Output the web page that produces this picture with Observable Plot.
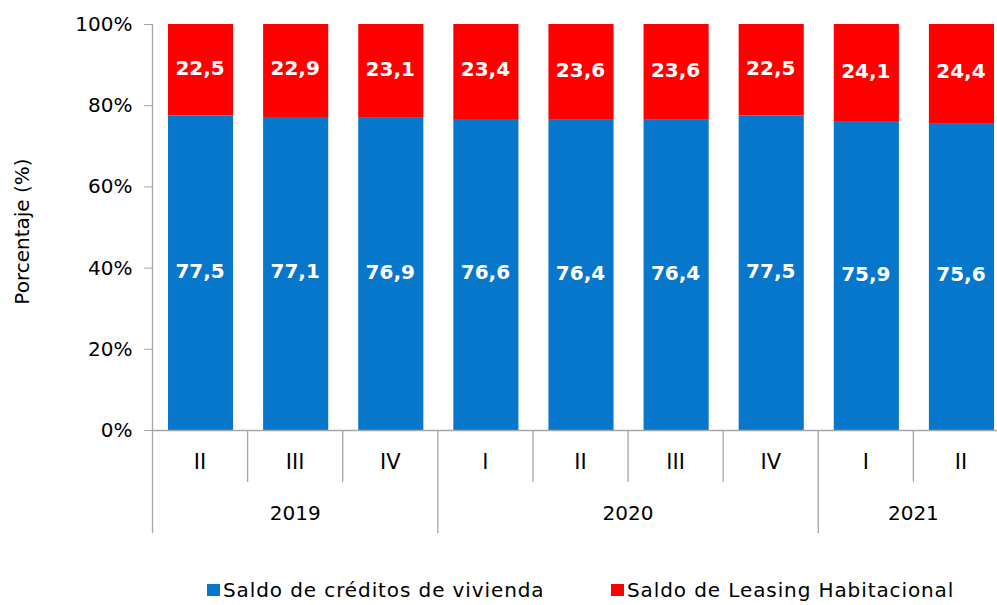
<!DOCTYPE html>
<html>
<head>
<meta charset="utf-8">
<script src="https://cdn.jsdelivr.net/npm/d3@7"></script>
<script src="https://cdn.jsdelivr.net/npm/@observablehq/plot@0.6"></script>
<style>
  html, body { margin: 0; padding: 0; background: #fff; }
  #wrap { position: relative; width: 997px; height: 605px; overflow: hidden; font-family: "DejaVu Sans", sans-serif; }
  #chart { position: absolute; left: 0; top: 0; width: 1010px; }
  #chart svg { max-width: none !important; }
  .leg { position: absolute; top: 578px; display: flex; align-items: center; font-size: 20px; letter-spacing: 0.9px; color: #000; white-space: nowrap; }
  .sw { width: 13px; height: 12px; margin-right: 3px; }
</style>
</head>
<body>
<div id="wrap">
  <div id="chart"></div>
  <div id="legend"></div>
</div>
<script>
// ---- data ----
const quarters = ["II", "III", "IV", "I", "II", "III", "IV", "I", "II"];
const years = ["2019", "2019", "2019", "2020", "2020", "2020", "2020", "2021", "2021"];
const creditos = [77.5, 77.1, 76.9, 76.6, 76.4, 76.4, 77.5, 75.9, 75.6];
const leasing = [22.5, 22.9, 23.1, 23.4, 23.6, 23.6, 22.5, 24.1, 24.4];
const seriesNames = ["Saldo de créditos de vivienda", "Saldo de Leasing Habitacional"];
const seriesColors = ["#0777CC", "#FF0000"];
const yTicks = [0, 20, 40, 60, 80, 100];

// ---- derived tables ----
const rows = [];
quarters.forEach((q, i) => {
  rows.push({i, serie: seriesNames[0], value: creditos[i]});
  rows.push({i, serie: seriesNames[1], value: leasing[i]});
});
const idx = quarters.map((q, i) => i);
const yearGroups = [];
years.forEach((y, i) => {
  const g = yearGroups.find(d => d.year === y);
  if (g) g.end = i; else yearGroups.push({year: y, start: i, end: i});
});
const yearBounds = yearGroups.map(g => g.start);
const quarterBounds = idx.filter(i => i > 0 && years[i] === years[i - 1]);

const W = 1010, H = 560, ML = 152, MR = 2, MT = 24, MB = 130;
const pxPerUnit = (H - MT - MB) / 100;
const qLen = 52 / pxPerUnit, yLen = 103 / pxPerUnit;
const grey = "#a6a6a6";

const plot = Plot.plot({
  width: W, height: H,
  marginLeft: ML, marginRight: MR, marginTop: MT, marginBottom: MB,
  style: {fontFamily: "DejaVu Sans, sans-serif", fontSize: "20px", color: "#000", background: "#fff", overflow: "visible", maxWidth: "none"},
  x: {type: "linear", domain: [0, quarters.length], axis: null},
  y: {domain: [0, 100], axis: null},
  color: {domain: seriesNames, range: seriesColors},
  marks: [
    Plot.rect(rows, Plot.stackY({x: "i", x1: "i", x2: d => d.i + 1, y: "value", fill: "serie", insetLeft: 16, insetRight: 14})),
    Plot.text(rows, Plot.stackY({x: d => d.i + 0.5, y: "value", text: d => d.value.toFixed(1).replace(".", ","), fill: "white", fontWeight: "bold", fontSize: 20, dy: -2})),
    Plot.ruleY([0], {stroke: grey, strokeWidth: 1.3}),
    Plot.axisY({ticks: yTicks, tickFormat: d => d + "%", tickSize: 8, tickPadding: 12, stroke: grey, fill: "#000", fontSize: 20, label: null}),
    Plot.ruleX(yearBounds, {x: d => d, y1: d => d === 0 ? 100 : 0, y2: -yLen, stroke: grey, strokeWidth: 1.3}),
    Plot.ruleX(quarterBounds, {x: d => d, y1: 0, y2: -qLen, stroke: grey, strokeWidth: 1.3}),
    Plot.text(idx, {x: i => i + 0.5, text: i => quarters[i], frameAnchor: "bottom", dy: 38, fontSize: 21, fill: "#000"}),
    Plot.text(yearGroups, {x: g => (g.start + g.end + 1) / 2, text: "year", frameAnchor: "bottom", dy: 89, fontSize: 20, fill: "#000"}),
    Plot.text(["Porcentaje (%)"], {frameAnchor: "left", textAnchor: "middle", dx: -130, dy: 4, rotate: -90, fontSize: 20, fill: "#000"})
  ]
});
document.getElementById("chart").appendChild(plot);

// ---- legend ----
const legend = document.getElementById("legend");
const legendLeft = [207, 611];
seriesNames.forEach((name, k) => {
  const item = document.createElement("div");
  item.className = "leg";
  item.style.left = legendLeft[k] + "px";
  const sw = document.createElement("span");
  sw.className = "sw";
  sw.style.background = seriesColors[k];
  const tx = document.createElement("span");
  tx.textContent = name;
  item.appendChild(sw);
  item.appendChild(tx);
  legend.appendChild(item);
});
</script>
</body>
</html>
